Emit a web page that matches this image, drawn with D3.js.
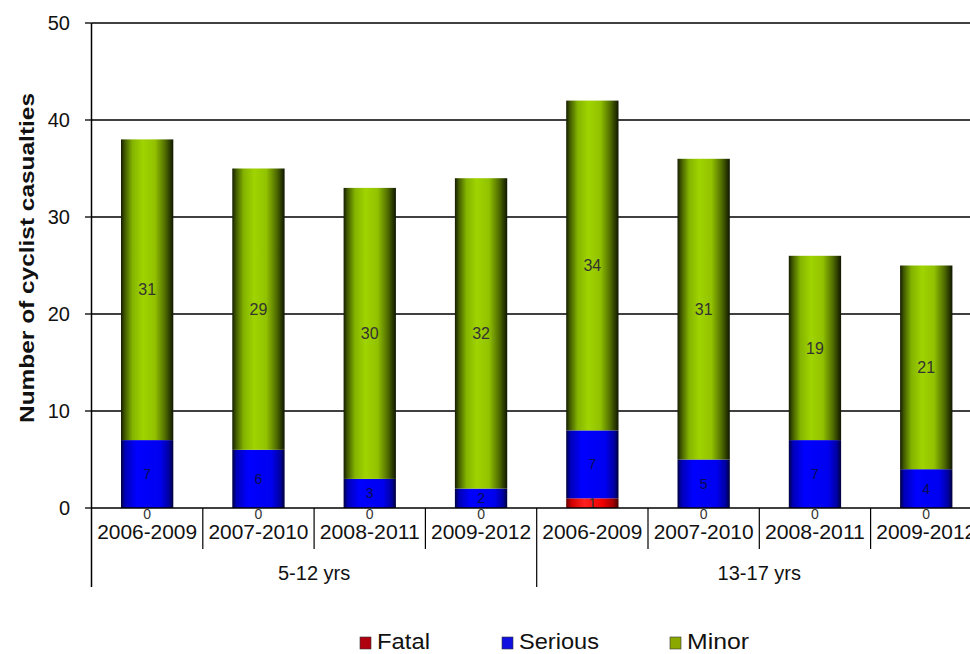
<!DOCTYPE html>
<html>
<head>
<meta charset="utf-8">
<script src="https://cdn.jsdelivr.net/npm/d3@7"></script>
<style>
  html, body { margin: 0; padding: 0; background: #fff; }
  svg { display: block; font-family: "Liberation Sans", Arial, sans-serif; }
</style>
</head>
<body>
<svg id="chart" width="970" height="654"></svg>
<script>
// Cyclist casualties by age group and 4-year period
const periods = ["2006-2009", "2007-2010", "2008-2011", "2009-2012"];
const ageGroups = ["5-12 yrs", "13-17 yrs"];
const fatal   = [0, 0, 0, 0, 1, 0, 0, 0];
const serious = [7, 6, 3, 2, 7, 5, 7, 4];
const minor   = [31, 29, 30, 32, 34, 31, 19, 21];
const seriesNames = ["Fatal", "Serious", "Minor"];
const yTicks = [0, 10, 20, 30, 40, 50];

const categories = [];
ageGroups.forEach(g => periods.forEach(p => categories.push({ group: g, period: p, key: g + "|" + p })));
const rows = categories.map((c, i) => ({ key: c.key, Fatal: fatal[i], Serious: serious[i], Minor: minor[i] }));

const svg = d3.select("#chart");
const plotLeft = 91.5, plotTop = 23, plotBottom = 508;
const bandW = 111.3;
const plotRight = plotLeft + bandW * categories.length;

const x = d3.scaleBand().domain(categories.map(c => c.key)).range([plotLeft, plotRight]).paddingInner(0.53).paddingOuter(0.265);
const xCell = d3.scaleBand().domain(categories.map(c => c.key)).range([plotLeft, plotRight]);
const y = d3.scaleLinear().domain([0, 50]).range([plotBottom, plotTop]);

// cylinder-style gradients
const defs = svg.append("defs");
const grads = {
  Fatal:   [["0%", "#600000"], ["10%", "#d00000"], ["35%", "#ff2020"], ["70%", "#f00000"], ["90%", "#a00000"], ["100%", "#400000"]],
  Serious: [["0%", "#000040"], ["8%", "#0000b8"], ["30%", "#0000ff"], ["75%", "#0000f0"], ["92%", "#0000a0"], ["100%", "#000038"]],
  Minor:   [["0%", "#141c00"], ["7%", "#405800"], ["22%", "#84b400"], ["42%", "#a0d400"], ["65%", "#92c200"], ["85%", "#4e6a00"], ["100%", "#101600"]]
};
Object.entries(grads).forEach(([k, stops]) => {
  const g = defs.append("linearGradient").attr("id", "g-" + k).attr("x1", "0").attr("x2", "1").attr("y1", "0").attr("y2", "0");
  stops.forEach(([o, c]) => g.append("stop").attr("offset", o).attr("stop-color", c));
});
const legendColor = { Fatal: "#b00010", Serious: "#1010e0", Minor: "#8aa800" };

// gridlines
svg.append("g").selectAll("line").data(yTicks.filter(t => t > 0)).join("line")
  .attr("x1", plotLeft).attr("x2", 970).attr("y1", d => y(d)).attr("y2", d => y(d))
  .attr("stroke", "#000").attr("stroke-width", 1.3);

// stacked bars
const stack = d3.stack().keys(seriesNames)(rows);
const barG = svg.append("g");
stack.forEach(layer => {
  barG.append("g").selectAll("rect").data(layer).join("rect")
    .attr("x", d => x(d.data.key))
    .attr("width", x.bandwidth())
    .attr("y", d => y(d[1]))
    .attr("height", d => y(d[0]) - y(d[1]))
    .attr("fill", "url(#g-" + layer.key + ")");
});

// value labels
const labelColor = { Fatal: "#333", Serious: "#0a0a50", Minor: "#333" };
const labelSize = { Fatal: 14, Serious: 14, Minor: 16 };
stack.forEach(layer => {
  svg.append("g").selectAll("text").data(layer).join("text")
    .attr("x", d => x(d.data.key) + x.bandwidth() / 2)
    .attr("y", d => layer.key === "Fatal" && d[1] - d[0] === 0 ? y(0) + 6 : (y(d[0]) + y(d[1])) / 2)
    .attr("dy", "0.35em")
    .attr("text-anchor", "middle")
    .attr("font-size", labelSize[layer.key])
    .attr("fill", labelColor[layer.key])
    .text(d => d[1] - d[0]);
});

// y axis
const yAxis = svg.append("g");
yAxis.append("line").attr("x1", plotLeft).attr("x2", plotLeft).attr("y1", plotTop).attr("y2", 587)
  .attr("stroke", "#000").attr("stroke-width", 1.5);
yAxis.selectAll(".tick").data(yTicks).join("line")
  .attr("x1", 85).attr("x2", plotLeft).attr("y1", d => y(d)).attr("y2", d => y(d))
  .attr("stroke", "#000").attr("stroke-width", 1.3);
yAxis.selectAll("text").data(yTicks).join("text")
  .attr("x", 70).attr("y", d => y(d)).attr("dy", "0.36em")
  .attr("text-anchor", "end").attr("font-size", 20).attr("fill", "#111")
  .text(d => d);

svg.append("text")
  .attr("transform", "translate(34,258) rotate(-90)")
  .attr("text-anchor", "middle").attr("font-size", 20).attr("font-weight", "bold").attr("fill", "#111")
  .attr("textLength", 330).attr("lengthAdjust", "spacingAndGlyphs")
  .text("Number of cyclist casualties");

// x axis with period and age group rows
const xAxis = svg.append("g");
xAxis.append("line").attr("x1", plotLeft).attr("x2", 970).attr("y1", plotBottom).attr("y2", plotBottom)
  .attr("stroke", "#000").attr("stroke-width", 1.5);
categories.forEach((c, i) => {
  if (i === 0) return;
  const xx = xCell(c.key);
  const groupEdge = periods.indexOf(c.period) === 0;
  xAxis.append("line").attr("x1", xx).attr("x2", xx).attr("y1", plotBottom).attr("y2", groupEdge ? 587 : 549)
    .attr("stroke", "#000").attr("stroke-width", 1.2);
});
xAxis.selectAll(".period").data(categories).join("text")
  .attr("x", d => xCell(d.key) + xCell.bandwidth() / 2).attr("y", 539)
  .attr("text-anchor", "middle").attr("font-size", 20).attr("fill", "#111")
  .attr("textLength", 100).attr("lengthAdjust", "spacingAndGlyphs")
  .text(d => d.period);
xAxis.selectAll(".group").data(ageGroups).join("text")
  .attr("x", g => {
    const ks = categories.filter(c => c.group === g).map(c => c.key);
    return (xCell(ks[0]) + xCell(ks[ks.length - 1]) + xCell.bandwidth()) / 2;
  })
  .attr("y", 580)
  .attr("text-anchor", "middle").attr("font-size", 20).attr("fill", "#111")
  .text(g => g);

// legend
const legendX = [360, 502, 670];
const legendLen = [53, 80, 62];
const legend = svg.append("g");
seriesNames.forEach((s, i) => {
  legend.append("rect").attr("x", legendX[i]).attr("y", 637).attr("width", 11).attr("height", 12)
    .attr("fill", legendColor[s]).attr("stroke", "#333").attr("stroke-width", 0.6);
  legend.append("text").attr("x", legendX[i] + 17).attr("y", 649)
    .attr("font-size", 22).attr("fill", "#111")
    .attr("textLength", legendLen[i]).attr("lengthAdjust", "spacingAndGlyphs")
    .text(s);
});
</script>
</body>
</html>
